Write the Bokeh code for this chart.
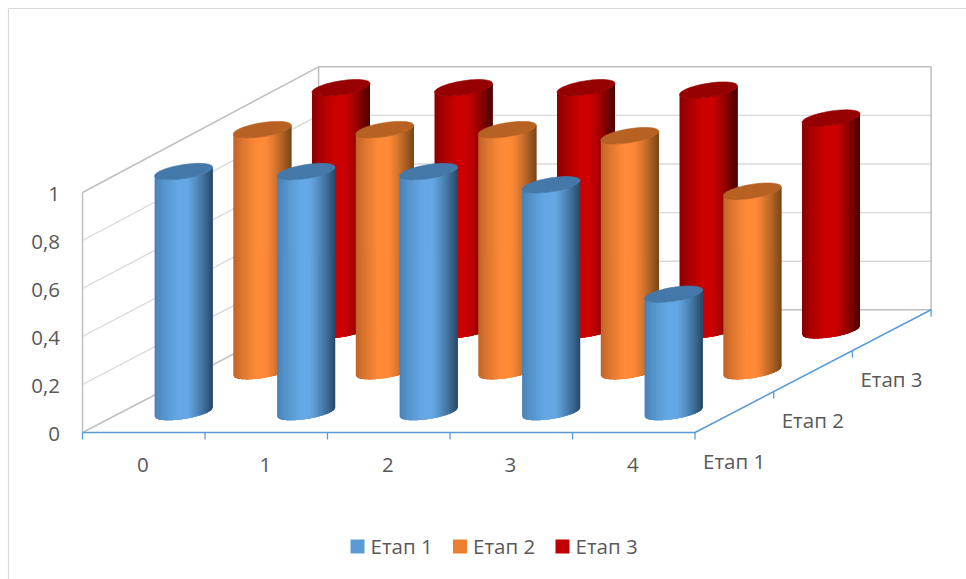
from bokeh.core.properties import value
from bokeh.embed import file_html
from bokeh.models import ColumnDataSource
from bokeh.plotting import figure
from bokeh.resources import INLINE
import numpy as np

# Chart data
categories = ["0", "1", "2", "3", "4"]
series_names = ["Етап 1", "Етап 2", "Етап 3"]
etap_1 = [1.0, 1.0, 1.0, 0.945, 0.49]
etap_2 = [1.0, 1.0, 1.0, 0.975, 0.745]
etap_3 = [1.0, 1.0, 1.0, 0.99, 0.875]
value_ticks = [0, 0.2, 0.4, 0.6, 0.8, 1]
value_labels = ["0", "0,2", "0,4", "0,6", "0,8", "1"]

# Shading per series: edge, highlight, shadow, cap, legend swatch
palette = [
    ("#4680b4", "#64a8e5", "#274866", "#4478a8", "#5b9bd5"),
    ("#bb6226", "#ff8a38", "#774517", "#b76222", "#ed7d31"),
    ("#860000", "#cc0000", "#480000", "#970000", "#c00000"),
]

TEXT = "#595959"
FONT = "Open Sans"
FONT_SIZE = "20.5px"

# Oblique projection of (category, depth, value) onto the page
ORIGIN_X, ORIGIN_Y = 82.0, 432.0
CAT_DX = 122.5
DEPTH_DX, DEPTH_DY = 78.7, -40.9
UNIT_H = 240.0


def project(cat, depth, val):
    px = ORIGIN_X + CAT_DX * np.asarray(cat, float) + DEPTH_DX * np.asarray(depth, float)
    py = ORIGIN_Y + DEPTH_DY * np.asarray(depth, float) - (UNIT_H + depth) * np.asarray(val, float)
    return px, py


def hex_rgb(c):
    return np.array([int(c[i:i + 2], 16) for i in (1, 3, 5)], float)


def shade(edge, peak, dark, t):
    # Horizontal lighting across a cylinder: t runs 0..1 from left to right
    e, k, d = hex_rgb(edge), hex_rgb(peak), hex_rgb(dark)
    if t < 0.4:
        rgb = e + (k - e) * (t / 0.4) ** 0.75
    elif t < 0.55:
        rgb = k
    else:
        rgb = k + (d - k) * ((t - 0.55) / 0.45) ** 1.25
    return "#%02x%02x%02x" % tuple(int(round(v)) for v in rgb)


RADIUS = 29.0
SHEAR = -0.15
MINOR = 7.0
STRIPS = 48


def rim(cx, cy, xs):
    # Lower half of the tilted ellipse that closes a cylinder
    u = np.clip((xs - cx) / RADIUS, -1, 1)
    return cy + SHEAR * (xs - cx) + MINOR * np.sqrt(1 - u ** 2)


p = figure(width=966, height=579, x_range=(0, 966), y_range=(579, 0),
           output_backend="svg", toolbar_location=None, min_border=0,
           background_fill_color="white", border_fill_color="white")
p.axis.visible = False
p.grid.visible = False
p.outline_line_color = None

# Chart frame
p.line([8, 8], [579, 8], line_color="#d9d9d9", line_width=1.2)
p.line([8, 966], [8, 8], line_color="#d9d9d9", line_width=1.2)

# Gridlines over the side wall and the back wall
for v in value_ticks[1:-1]:
    xa, ya = project(0, 0, v)
    xb, yb = project(0, 3, v)
    xc, yc = project(5, 3, v)
    p.line([xa, xb, xc], [ya, yb, yc], line_color="#d9d9d9", line_width=1.4)

# Wall outlines
xs, ys = zip(*[tuple(map(float, project(*c))) for c in
               [(0, 0, 1), (0, 3, 1), (5, 3, 1), (5, 3, 0), (0, 3, 0), (0, 0, 0), (0, 0, 1)]])
p.line(list(xs), list(ys), line_color="#bfbfbf", line_width=1.5)
xb, yb = project(0, 3, 0)
xt, yt = project(0, 3, 1)
p.line([xb, xt], [yb, yt], line_color="#bfbfbf", line_width=1.5)

# Cylinders, back row first so the nearer rows overlap them
for row, vals in reversed(list(enumerate([etap_1, etap_2, etap_3]))):
    edge, peak, dark, cap, _ = palette[row]
    for c, v in enumerate(vals):
        cx, base_y = project(c + 0.5, row + 0.5, 0)
        _, top_y = project(c + 0.5, row + 0.5, v)
        cx = cx + 0.5
        edges = np.linspace(cx - RADIUS, cx + RADIUS, STRIPS + 1)
        strip_x, strip_y, strip_c = [], [], []
        # Each strip runs on under the next ones, so no background leaks at the joins
        for i in range(STRIPS):
            seg = edges[i:i + 4]
            low = rim(cx, base_y, seg)
            high = rim(cx, top_y, seg)
            strip_x.append(list(seg) + list(seg[::-1]))
            strip_y.append(list(low) + list(high[::-1]))
            strip_c.append(shade(edge, peak, dark, (i + 0.5) / STRIPS))
        src = ColumnDataSource(dict(x=strip_x, y=strip_y, c=strip_c))
        p.patches("x", "y", source=src, fill_color="c", line_color=None, fill_alpha=1.0)
        # Top face
        half = np.linspace(0, 2 * np.pi, 73)
        arc = cx + RADIUS * np.cos(half)
        top_face_y = top_y + SHEAR * (arc - cx) + MINOR * np.sin(half)
        p.patch(list(arc), list(top_face_y), fill_color=cap, line_color=cap,
                line_width=0.6, fill_alpha=1.0, line_alpha=1.0)

# Category and depth axes with their tick marks
AXIS = "#5b9bd5"
xa, ya = project(0, 0, 0)
xb, yb = project(5, 0, 0)
xc, yc = project(5, 3, 0)
p.line([xa, xb, xc], [ya, yb, yc], line_color=AXIS, line_width=1.6)
for c in range(len(categories) + 1):
    x, y = project(c, 0, 0)
    p.line([x, x], [y, y + 7], line_color=AXIS, line_width=1.3)
for d in range(1, len(series_names) + 1):
    x, y = project(5, d, 0)
    p.line([x, x], [y, y + 7], line_color=AXIS, line_width=1.3)

# Value labels
label_y = [float(project(0, 0, v)[1]) + 1 for v in value_ticks]
p.text([59.5] * len(value_labels), label_y, text=value_labels, text_align="right",
       text_baseline="middle", text_color=TEXT, text_font=value(FONT), text_font_size=FONT_SIZE)

# Category labels
cat_x = [float(project(i + 0.5, 0, 0)[0]) - 1 for i in range(len(categories))]
p.text(cat_x, [ORIGIN_Y + 32] * len(categories), text=categories, text_align="center",
       text_baseline="middle", text_color=TEXT, text_font=value(FONT), text_font_size=FONT_SIZE)

# Depth labels
depth_x = [float(project(5, d, 0)[0]) + 8 for d in range(len(series_names))]
depth_y = [float(project(5, d, 0)[1]) + 28 for d in range(len(series_names))]
p.text(depth_x, depth_y, text=series_names, text_align="left", text_baseline="middle",
       text_color=TEXT, text_font=value(FONT), text_font_size=FONT_SIZE)

# Legend
for i, name in enumerate(series_names):
    left = 350 + 102.5 * i
    p.quad(left=[left], right=[left + 14], top=[539], bottom=[553],
           fill_color=palette[i][4], line_color=None, fill_alpha=1.0)
    p.text([left + 20], [545.5], text=[name], text_align="left", text_baseline="middle",
           text_color=TEXT, text_font=value(FONT), text_font_size=FONT_SIZE)

open("out.html", "w").write(file_html(p, INLINE))
